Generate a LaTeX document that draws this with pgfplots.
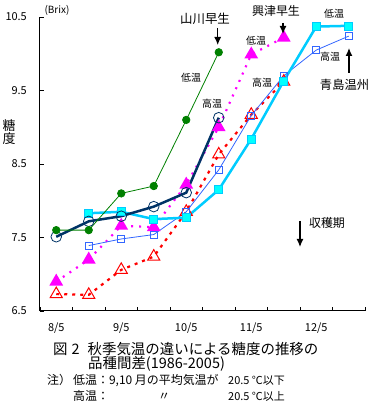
\documentclass[border=0pt]{standalone}
\usepackage{pgfplots}
\pgfplotsset{compat=1.18}
\usepackage{fontspec}
\setmainfont{Noto Sans CJK JP}
\usetikzlibrary{arrows.meta}
\definecolor{cgreen}{RGB}{0,128,0}
\definecolor{cnavy}{RGB}{0,51,102}
\definecolor{cmag}{RGB}{255,0,255}
\definecolor{cred}{RGB}{255,0,0}
\definecolor{ccyan}{RGB}{0,204,255}
\definecolor{ccyanf}{RGB}{0,255,255}
\definecolor{cblue}{RGB}{51,102,255}
\begin{document}
\begin{tikzpicture}
\path[use as bounding box] (0,0) rectangle (375bp,407bp);
\begin{axis}[at={(40bp,96bp)}, anchor=south west, scale only axis,
  width=325bp, height=294bp,
  xmin=-0.5, xmax=9.5, ymin=6.5, ymax=10.5,
  axis x line*=bottom, axis y line*=left,
  axis line style={line width=1bp, -},
  xtick={0,2,4,6,8}, xticklabels={8/5,9/5,10/5,11/5,12/5},
  minor xtick={-0.5,0.5,...,9.5},
  ytick={6.5,7.5,8.5,9.5,10.5},
  minor ytick={6.5,7.5,8.5,9.5,10.5},
  tick align=inside, major tick length=0pt, minor tick length=4bp,
  every tick/.append style={black, line width=0.8bp},
  /pgf/number format/assume math mode=true,
  yticklabel style={font=\fontsize{11}{12}\selectfont, anchor=east, inner sep=0pt, xshift=-13bp},
  xticklabel style={font=\fontsize{11}{12}\selectfont, anchor=base, inner sep=0pt, yshift=-21bp},
  clip=false,
]
% 興津早生 高温
\addplot[cred, line width=2.2bp, dash pattern=on 3bp off 5bp, mark=triangle, mark size=7bp,
  mark options={solid, line width=1bp, fill=none}] coordinates {
 (0,6.73) (1,6.72) (2,7.06) (3,7.24) (4,7.85) (5,8.63) (6,9.17) (7,9.62)};
% 興津早生 低温
\addplot[cmag, line width=2.2bp, dash pattern=on 2bp off 6bp, mark=triangle*, mark size=5.8bp,
  mark options={solid, fill=cmag}] coordinates {
 (0,6.90) (1,7.20) (2,7.66) (3,7.64) (4,8.22) (5,9.00) (6,9.99) (7,10.22)};
% 青島温州 高温
\addplot[cblue, line width=0.8bp, mark=square, mark size=3.5bp,
  mark options={solid, line width=0.8bp}] coordinates {
 (1,7.39) (2,7.48) (3,7.54) (4,7.85) (5,8.42) (6,9.16) (7,9.70) (8,10.05) (9,10.24)};
% 青島温州 低温
\addplot[ccyan, line width=2.5bp, mark=square*, mark size=4bp,
  mark options={solid, line width=0.6bp, draw=ccyan, fill=ccyanf}] coordinates {
 (1,7.83) (2,7.85) (3,7.75) (4,7.77) (5,8.15) (6,8.84) (7,9.63) (8,10.37) (9,10.38)};
% 山川早生 高温
\addplot[cnavy, line width=2.5bp, mark=o, mark size=5.3bp,
  mark options={solid, line width=0.8bp}] coordinates {
 (0,7.51) (1,7.72) (2,7.79) (3,7.92) (4,8.11) (5,9.13)};
% 山川早生 低温
\addplot[cgreen, line width=0.8bp, mark=*, mark size=3.7bp,
  mark options={solid, fill=cgreen}] coordinates {
 (0,7.60) (1,7.60) (2,8.10) (3,8.20) (4,9.10) (5,10.02)};
\end{axis}
% labels
\node[font=\fontsize{10}{12}\selectfont, inner sep=0pt] at (57bp,397bp) {(Brix)};
\node[font=\fontsize{13}{14}\selectfont, inner sep=0pt] at (9bp,281bp) {糖};
\node[font=\fontsize{13}{14}\selectfont, inner sep=0pt] at (9bp,268bp) {度};
\node[font=\fontsize{12.5}{14}\selectfont, inner sep=0pt] at (205bp,388bp) {山川早生};
\node[font=\fontsize{12}{14}\selectfont, inner sep=0pt] at (276bp,396bp) {興津早生};
\node[font=\fontsize{12.3}{14}\selectfont, inner sep=0pt] at (344.5bp,322bp) {青島温州};
\node[font=\fontsize{12}{14}\selectfont, inner sep=0pt] at (327bp,184bp) {収穫期};
\node[font=\fontsize{10}{12}\selectfont, inner sep=0pt] at (191bp,329bp) {低温};
\node[font=\fontsize{10}{12}\selectfont, inner sep=0pt] at (212bp,303bp) {高温};
\node[font=\fontsize{10}{12}\selectfont, inner sep=0pt] at (256bp,366bp) {低温};
\node[font=\fontsize{10}{12}\selectfont, inner sep=0pt] at (262bp,324bp) {高温};
\node[font=\fontsize{10}{12}\selectfont, inner sep=0pt] at (334bp,393bp) {低温};
\node[font=\fontsize{10}{12}\selectfont, inner sep=0pt] at (330bp,350bp) {高温};
% arrows
\draw[line width=1.2bp, -{Latex[length=8bp,width=7bp]}] (217.7bp,379bp) -- (217.7bp,362bp);
\draw[line width=1.2bp, -{Latex[length=8bp,width=7bp]}] (283bp,384bp) -- (283bp,373bp);
\draw[line width=1.2bp, -{Latex[length=8bp,width=7bp]}] (349bp,334bp) -- (349bp,359bp);
\draw[line width=1.2bp, -{Latex[length=8bp,width=7bp]}] (300bp,186bp) -- (300bp,160bp);
% caption
\node[font=\fontsize{14.5}{16}\selectfont, inner sep=0pt, anchor=base west] at (53bp,52.5bp) {図\hspace{4bp}2\hspace{8bp}秋季気温の違いによる糖度の推移の};
\node[font=\fontsize{14.5}{16}\selectfont, inner sep=0pt, anchor=base west] at (88bp,38.5bp) {品種間差(1986-2005)};
\node[font=\fontsize{12}{14}\selectfont, inner sep=0pt, anchor=base west] at (47bp,22.6bp) {注）};
\node[font=\fontsize{12}{14}\selectfont, inner sep=0pt, anchor=base west] at (73bp,22.6bp) {低温：9,10 月の平均気温が};
\node[font=\fontsize{11}{14}\selectfont, inner sep=0pt, anchor=base west] at (228bp,22.6bp) {20.5 ℃以下};
\node[font=\fontsize{12}{14}\selectfont, inner sep=0pt, anchor=base west] at (73bp,6.6bp) {高温：};
\node[font=\fontsize{12}{14}\selectfont, inner sep=0pt, anchor=base west] at (158bp,6.6bp) {〃};
\node[font=\fontsize{11}{14}\selectfont, inner sep=0pt, anchor=base west] at (228bp,6.6bp) {20.5 ℃以上};
\end{tikzpicture}
\end{document}
